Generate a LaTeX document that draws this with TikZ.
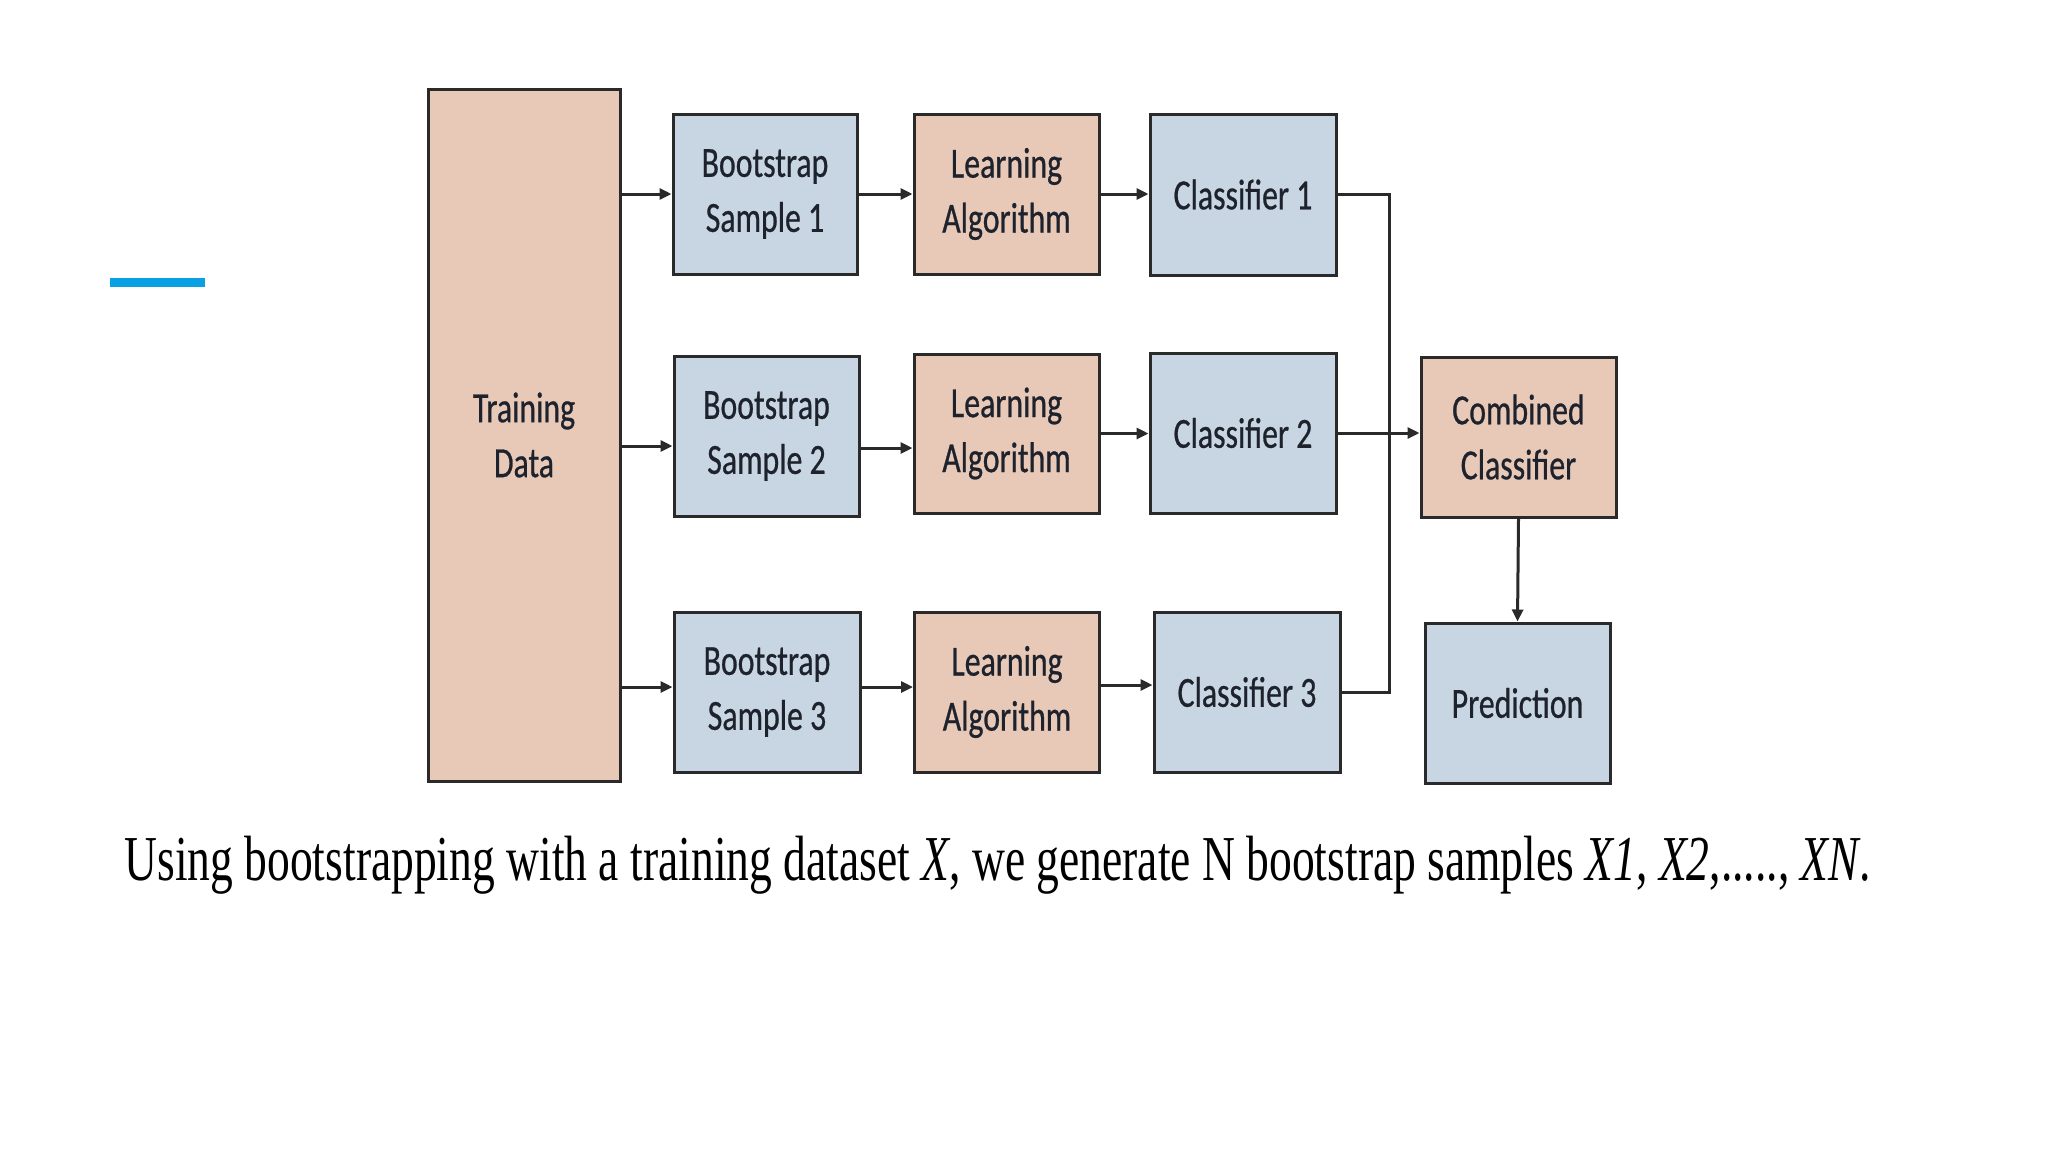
\documentclass[tikz,border=0pt]{standalone}
\usepackage{fontspec}
\usepackage{graphicx}
\usetikzlibrary{arrows.meta}
\newfontfamily\boxfont[FakeStretch=0.74,FakeBold=0.6]{Carlito}
\newfontfamily\capfont{Liberation Serif}
\definecolor{peach}{RGB}{232,201,184}
\definecolor{lblue}{RGB}{199,214,226}
\definecolor{edge}{RGB}{42,42,42}
\definecolor{txt}{RGB}{30,34,44}
\definecolor{accent}{RGB}{10,160,228}
\tikzset{
  box/.style={draw=edge, line width=1.5pt, font=\boxfont\fontsize{21.5}{27.5}\selectfont, text=txt, align=center, inner sep=0pt},
  pk/.style={box, fill=peach},
  bl/.style={box, fill=lblue},
  ln/.style={draw=edge, line width=1.5pt},
  arr/.style={ln, -{Triangle[length=6pt,width=5.5pt]}}
}
\begin{document}
\begin{tikzpicture}[x=0.5pt,y=-0.5pt]
\fill[white] (0,0) rectangle (2048,1152);
\useasboundingbox (0,0) rectangle (2048,1152);
% accent bar
\fill[accent] (110,278) rectangle (205,287);
% boxes
\node[pk, minimum width=96pt, minimum height=346pt] (TD) at (524,435) {Training\\Data};
\node[bl, minimum width=92pt, minimum height=80pt] (BS1) at (765,194) {Bootstrap\\Sample 1};
\node[bl, minimum width=92.5pt, minimum height=80pt] (BS2) at (766.5,436) {Bootstrap\\Sample 2};
\node[bl, minimum width=93pt, minimum height=80pt] (BS3) at (767,692) {Bootstrap\\Sample 3};
\node[pk, minimum width=92.5pt, minimum height=80pt] (LA1) at (1006.5,194) {Learning\\Algorithm};
\node[pk, minimum width=92.5pt, minimum height=79.5pt] (LA2) at (1006.5,433.5) {Learning\\Algorithm};
\node[pk, minimum width=92.5pt, minimum height=80pt] (LA3) at (1007,692) {Learning\\Algorithm};
\node[bl, minimum width=93pt, minimum height=80.5pt] (C1) at (1243,194.5) {Classifier 1};
\node[bl, minimum width=93pt, minimum height=80pt] (C2) at (1243,433) {Classifier 2};
\node[bl, minimum width=93pt, minimum height=80pt] (C3) at (1247,692) {Classifier 3};
\node[pk, minimum width=97.5pt, minimum height=80pt] (CC) at (1518.5,437) {Combined\\Classifier};
\node[bl, minimum width=92.5pt, minimum height=80pt] (PR) at (1517.5,703) {Prediction};
% arrow end points
\coordinate (b2in) at ([yshift=-5pt]BS2.west);
\coordinate (b2out) at ([yshift=-6pt]BS2.east);
\coordinate (b3in) at ([yshift=2.5pt]BS3.west);
\coordinate (b3out) at ([yshift=2.5pt]BS3.east);
\coordinate (l3out) at ([yshift=3.5pt]LA3.east);
% arrows row 1
\draw[arr] (TD.east |- BS1.west) -- (BS1.west);
\draw[arr] (BS1.east) -- (LA1.west |- BS1.east);
\draw[arr] (LA1.east) -- (C1.west |- LA1.east);
% arrows row 2
\draw[arr] (TD.east |- b2in) -- (b2in);
\draw[arr] (b2out) -- (LA2.west |- b2out);
\draw[arr] (LA2.east) -- (C2.west |- LA2.east);
% arrows row 3
\draw[arr] (TD.east |- b3in) -- (b3in);
\draw[arr] (b3out) -- (LA3.west |- b3out);
\draw[arr] (l3out) -- (C3.west |- l3out);
% bus to combined classifier
\coordinate (bus) at (1389,0);
\draw[ln] (C1.east) -| (bus |- C3.east) -- (C3.east);
\draw[arr] (C2.east) -- (CC.west |- C2.east);
\draw[arr] (CC.south) -- (PR.north);
% caption
\node[anchor=base west, inner sep=0pt] (cap) at (124,880) {\resizebox{873pt}{\height}{\capfont\fontsize{32}{38}\selectfont Using bootstrapping with a training dataset \textit{X}, we generate N bootstrap samples \textit{X1}, \textit{X2},....., \textit{XN}.}};
\end{tikzpicture}
\end{document}
